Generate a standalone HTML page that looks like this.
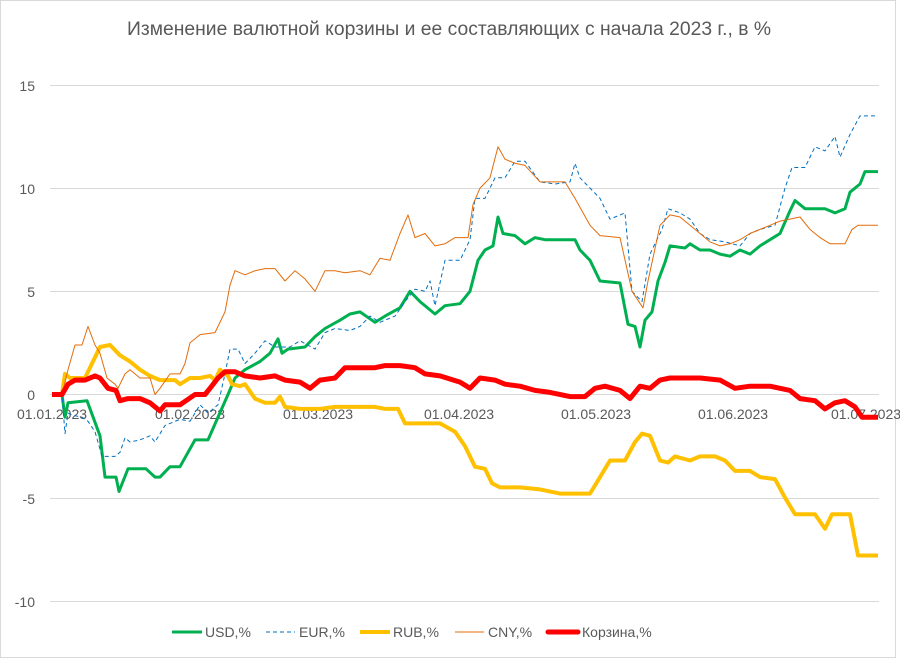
<!DOCTYPE html>
<html><head><meta charset="utf-8"><style>
html,body{margin:0;padding:0;background:#fff;}
svg{display:block;font-family:"Liberation Sans",sans-serif;}
</style></head><body>
<svg id="c" width="900" height="662" viewBox="0 0 900 662">
<rect x="0.5" y="0.5" width="895" height="657" fill="#fff" stroke="#d9d9d9"/>
<text x="449" y="35" text-anchor="middle" font-size="19" fill="#595959" textLength="644" lengthAdjust="spacingAndGlyphs">Изменение валютной корзины и ее составляющих с начала 2023 г., в %</text>
<g stroke="#d9d9d9" stroke-width="1">
<line x1="50" x2="879" y1="85.5" y2="85.5"/><line x1="50" x2="879" y1="188.5" y2="188.5"/>
<line x1="50" x2="879" y1="291.5" y2="291.5"/><line x1="50" x2="879" y1="394.5" y2="394.5"/>
<line x1="50" x2="879" y1="498.5" y2="498.5"/><line x1="50" x2="879" y1="601.5" y2="601.5"/>
</g>
<g font-size="14" fill="#595959" text-anchor="end">
<text x="35" y="91">15</text><text x="35" y="194">10</text><text x="35" y="297">5</text>
<text x="35" y="400">0</text><text x="35" y="504">-5</text><text x="35" y="607">-10</text>
</g>
<g font-size="14" fill="#595959" text-anchor="middle">
<text x="52" y="419">01.01.2023</text><text x="190" y="419">01.02.2023</text><text x="318" y="419">01.03.2023</text>
<text x="459" y="419">01.04.2023</text><text x="596" y="419">01.05.2023</text><text x="733" y="419">01.06.2023</text>
<text x="866" y="419">01.07.2023</text>
</g>
<g id="series" fill="none" stroke-linejoin="round"></g>
<g font-size="14" fill="#595959">
<line x1="172" x2="202" y1="632" y2="632" stroke="#00b050" stroke-width="3"/><text x="205" y="637">USD,%</text>
<line x1="266" x2="295" y1="632" y2="632" stroke="#0070c0" stroke-width="1" stroke-dasharray="4,3"/><text x="299" y="637">EUR,%</text>
<line x1="360" x2="390" y1="632" y2="632" stroke="#ffc000" stroke-width="4"/><text x="393" y="637">RUB,%</text>
<line x1="455" x2="484" y1="632" y2="632" stroke="#e46c0a" stroke-width="1"/><text x="488" y="637">CNY,%</text>
<line x1="548" x2="578" y1="632" y2="632" stroke="#ff0000" stroke-width="5" stroke-linecap="round"/><text x="582" y="637">Корзина,%</text>
</g>
</svg>
<script>
var S={
usd:[52,0,62,0,65,-1.1,68,-0.4,87,-0.3,100,-2,105,-4,116,-4,119,-4.7,128,-3.6,146,-3.6,155,-4,160,-4,170,-3.5,180,-3.5,195,-2.2,208,-2.2,228,0,235,0.8,245,1.2,260,1.6,270,2,278,2.7,282,2,288,2.2,305,2.3,315,2.8,325,3.2,340,3.6,350,3.9,360,4,375,3.5,385,3.8,400,4.2,410,5,420,4.5,435,3.9,445,4.3,460,4.4,470,5,478,6.5,485,7,493,7.2,498,8.6,503,7.8,515,7.7,525,7.3,535,7.6,545,7.5,575,7.5,580,7,590,6.5,600,5.5,620,5.4,628,3.4,635,3.3,640,2.3,645,3.6,652,4,658,5.5,665,6.4,670,7.2,685,7.1,690,7.3,700,7,710,7,720,6.8,730,6.7,740,7,750,6.8,760,7.2,770,7.5,780,7.8,790,8.9,795,9.4,805,9,825,9,835,8.8,845,9,850,9.8,860,10.2,865,10.8,878,10.8],
eur:[52,0,62,0,65,-1.9,68,-0.9,72,-1,82,-1.1,88,-1.3,95,-1.8,102,-3,115,-3,120,-2.8,125,-2.1,130,-2.3,140,-2.2,150,-2,155,-2.3,165,-1.5,180,-1.2,190,-1.3,200,-0.5,208,-0.9,218,-0.5,225,1,230,2.2,238,2.2,245,1.5,255,2,265,2.6,275,2.3,290,2.3,300,2.6,315,2.2,325,3,335,3.2,350,3.1,360,3.3,370,3.8,380,3.5,395,3.8,405,4.5,415,5.1,425,5,430,5.5,435,4.3,445,6.5,460,6.5,470,7.5,475,9.5,485,9.5,495,10.5,505,10.5,515,11.3,525,11.3,540,10.3,555,10.2,570,10.3,575,11.2,580,10.5,590,10,600,9.5,610,8.5,625,8.8,632,5,642,4.5,650,6.8,662,8,668,9,680,8.8,690,8.5,700,7.8,710,7.5,725,7.4,740,7.2,750,7.8,760,8,775,8.2,785,10,792,11,805,11,815,12,825,11.8,835,12.5,840,11.5,850,12.6,860,13.5,878,13.5],
cny:[52,0,62,0,68,1.2,75,2.4,82,2.4,88,3.3,95,2.4,100,2,107,0.8,115,0.5,118,0.3,125,1,130,1.2,135,1,140,0.8,150,0.8,155,0,160,0.3,170,1,180,1,185,1.5,190,2.5,200,2.9,215,3,225,4,230,5.3,235,6,245,5.8,255,6,265,6.1,275,6.1,285,5.5,295,6,305,5.6,315,5,325,6,335,6,345,5.9,360,6,370,5.8,380,6.6,390,6.5,400,7.8,408,8.7,415,7.6,425,7.8,435,7.2,445,7.3,455,7.6,468,7.6,473,9.2,480,10,490,10.5,498,12,505,11.4,515,11.2,525,11.1,540,10.3,555,10.3,565,10.3,575,9.5,590,8.2,600,7.7,620,7.6,632,5,643,4.2,648,5.5,660,8.2,670,8.7,680,8.6,690,8.2,700,7.8,710,7.4,720,7.2,730,7.3,740,7.5,750,7.8,760,8,770,8.2,780,8.4,790,8.5,800,8.6,810,8,820,7.6,830,7.3,845,7.3,852,8,858,8.2,878,8.2],
rub:[52,0,62,0,65,1,70,0.8,85,0.8,92,1.5,100,2.3,110,2.4,120,1.9,130,1.6,140,1.2,150,0.9,160,0.7,175,0.7,180,0.5,190,0.8,200,0.8,210,0.9,215,0.7,220,1.2,228,0.9,232,0.5,240,0.4,245,0.5,255,-0.2,265,-0.4,275,-0.4,280,-0.1,285,-0.6,300,-0.7,320,-0.7,335,-0.6,360,-0.6,375,-0.6,385,-0.7,398,-0.7,405,-1.4,420,-1.4,440,-1.4,455,-1.8,465,-2.5,475,-3.5,485,-3.6,492,-4.3,500,-4.5,520,-4.5,540,-4.6,560,-4.8,580,-4.8,590,-4.8,600,-4,610,-3.2,625,-3.2,635,-2.3,642,-1.9,650,-2,660,-3.2,668,-3.3,675,-3,690,-3.2,700,-3,715,-3,725,-3.2,735,-3.7,750,-3.7,760,-4,775,-4.1,785,-5,795,-5.8,815,-5.8,825,-6.5,832,-5.8,850,-5.8,858,-7.8,878,-7.8],
red:[52,0,62,0,68,0.5,75,0.7,85,0.7,95,0.9,100,0.8,108,0.3,116,0.2,120,-0.3,128,-0.2,140,-0.2,150,-0.4,160,-0.8,165,-0.5,180,-0.5,195,0,205,0,210,0.3,218,0.8,225,1.1,235,1.1,245,0.9,260,0.8,275,0.9,285,0.7,300,0.6,310,0.3,320,0.7,335,0.8,345,1.3,360,1.3,375,1.3,385,1.4,400,1.4,415,1.3,425,1,440,0.9,460,0.6,470,0.3,480,0.8,495,0.7,505,0.5,520,0.4,535,0.2,550,0.1,570,-0.1,585,-0.1,595,0.3,605,0.4,620,0.2,630,-0.2,640,0.4,650,0.3,660,0.7,670,0.8,685,0.8,700,0.8,720,0.7,735,0.3,750,0.4,770,0.4,790,0.2,800,-0.2,815,-0.3,825,-0.7,835,-0.4,845,-0.3,855,-0.6,862,-1.1,878,-1.1]};
var st={usd:['#00b050',3,''],eur:['#0070c0',1,'4,3'],cny:['#e46c0a',1,''],rub:['#ffc000',4,''],red:['#ff0000',5,'']};
var order=['usd','eur','rub','cny','red'],g=document.getElementById('series'),h='';
order.forEach(function(k){var a=S[k],p=[];for(var i=0;i<a.length;i+=2)p.push(a[i]+','+(394.5-a[i+1]*20.64).toFixed(1));
h+='<polyline points="'+p.join(' ')+'" stroke="'+st[k][0]+'" stroke-width="'+st[k][1]+'"'+(st[k][2]?' stroke-dasharray="'+st[k][2]+'"':'')+'/>';});
g.innerHTML=h;
</script>
</body></html>
